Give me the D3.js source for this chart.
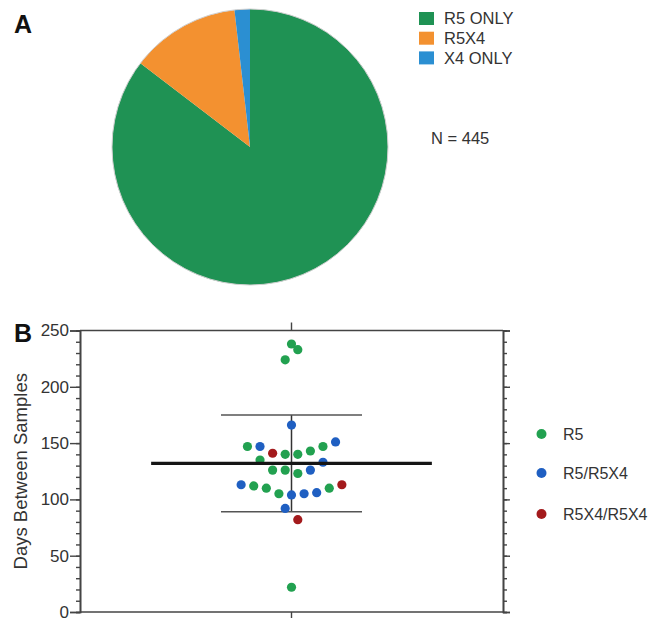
<!DOCTYPE html>
<html>
<head>
<meta charset="utf-8">
<script src="https://cdn.jsdelivr.net/npm/d3@7"></script>
<style>
  html, body { margin: 0; padding: 0; background: #fff; }
  svg { display: block; }
  text { font-family: "Liberation Sans", Arial, sans-serif; fill: #333; }
</style>
</head>
<body>
<svg id="chart" width="660" height="618"></svg>
<script>
// ---------- Panel A data ----------
const pieCategories = ["R5 ONLY", "R5X4", "X4 ONLY"];
const pieCounts = [380, 57, 8];
const pieColors = ["#1f9254", "#f39130", "#2b8fd2"];
const pieNote = "N = 445";

// ---------- Panel B data ----------
const groupNames = ["R5", "R5/R5X4", "R5X4/R5X4"];
const groupColors = ["#22a150", "#1f5fc2", "#a31a1c"];
// days between samples for each group
const r5Days      = [238, 233, 224, 22, 147, 140, 140, 143, 147, 135, 126, 126, 123, 112, 110, 105, 110];
const r5Slot      = [0, 1, -1, 0, -7, -1, 1, 3, 5, -5, -3, -1, 1, -6, -4, -2, 6];
const r5r5x4Days  = [166, 147, 151, 133, 126, 113, 104, 105, 106, 92];
const r5r5x4Slot  = [0, -5, 7, 5, 3, -8, 0, 2, 4, -1];
const r5x4Days    = [141, 113, 82];
const r5x4Slot    = [-3, 8, 1];
const meanDays = 132;
const sdUpper = 175;
const sdLower = 89;
const yMajorTicks = [0, 50, 100, 150, 200, 250];
const yMinorTicks = d3.range(0, 251, 10);
const yTitle = "Days Between Samples";

const svg = d3.select("#chart");

// ================= Panel A =================
const pieG = svg.append("g").attr("transform", "translate(250,147)");
const pie = d3.pie().sort(null).value(d => d)(pieCounts);
const arc = d3.arc().innerRadius(0).outerRadius(138);
pieG.selectAll("path.slice").data(pie).enter().append("path")
  .attr("class", "slice")
  .attr("d", arc)
  .attr("fill", (d, i) => pieColors[i]);
pieG.append("circle").attr("r", 138).attr("fill", "none")
  .attr("stroke", "#cfcfcf").attr("stroke-width", 1);

svg.append("text").attr("x", 14).attr("y", 33)
  .style("font-size", "25px").style("font-weight", "bold").style("fill", "#111").text("A");

const legA = svg.append("g");
pieCategories.forEach((c, i) => {
  const y0 = 12 + i * 19.7;
  legA.append("rect").attr("x", 419).attr("y", y0).attr("width", 15).attr("height", 13)
    .attr("fill", pieColors[i]);
  legA.append("text").attr("x", 444).attr("y", y0 + 12.3)
    .style("font-size", "16.5px").text(c);
});
svg.append("text").attr("x", 431).attr("y", 144).style("font-size", "16.5px").text(pieNote);

// ================= Panel B =================
const pLeft = 80, pRight = 503, pTop = 330.5, pBottom = 612;
const y = d3.scaleLinear().domain([0, 250]).range([pBottom, pTop]);
const x = d3.scaleLinear().domain([-33.6, 33.6]).range([pLeft, pRight]);
const axisColor = "#444";

// left axis: minor then major
const gLm = svg.append("g").attr("transform", `translate(${pLeft},0)`)
  .call(d3.axisLeft(y).tickValues(yMinorTicks).tickSize(4).tickFormat(""));
const gL = svg.append("g").attr("transform", `translate(${pLeft},0)`)
  .call(d3.axisLeft(y).tickValues(yMajorTicks).tickSize(10).tickPadding(1));
gL.selectAll("text").style("font-size", "17px").style("fill", "#333")
  .attr("font-family", "Liberation Sans, Arial, sans-serif");
// right axis
const gRm = svg.append("g").attr("transform", `translate(${pRight},0)`)
  .call(d3.axisRight(y).tickValues(yMinorTicks).tickSize(4).tickFormat(""));
const gR = svg.append("g").attr("transform", `translate(${pRight},0)`)
  .call(d3.axisRight(y).tickValues(yMajorTicks).tickSize(7).tickFormat(""));
[gLm, gL, gRm, gR].forEach(g => {
  g.select(".domain").attr("stroke", axisColor).attr("stroke-width", 1.6);
  g.selectAll(".tick line").attr("stroke", axisColor).attr("stroke-width", 1.4);
});
// top & bottom borders
svg.append("line").attr("x1", pLeft).attr("x2", pRight).attr("y1", y(250)).attr("y2", y(250))
  .attr("stroke", axisColor).attr("stroke-width", 1.6);
svg.append("line").attr("x1", pLeft).attr("x2", pRight).attr("y1", y(0)).attr("y2", y(0))
  .attr("stroke", axisColor).attr("stroke-width", 1.6);
svg.append("line").attr("x1", x(0)).attr("x2", x(0)).attr("y1", y(250) - 8).attr("y2", y(250))
  .attr("stroke", axisColor).attr("stroke-width", 1.4);
svg.append("line").attr("x1", x(0)).attr("x2", x(0)).attr("y1", y(0)).attr("y2", y(0) + 8)
  .attr("stroke", axisColor).attr("stroke-width", 1.4);

// y title
svg.append("text").attr("transform", `translate(27,${(pTop + pBottom) / 2}) rotate(-90)`)
  .attr("text-anchor", "middle").style("font-size", "18.5px").text(yTitle);
svg.append("text").attr("x", 14).attr("y", 342)
  .style("font-size", "25px").style("font-weight", "bold").style("fill", "#111").text("B");

// SD bars
const sdHalf = 11.2, meanHalf = 22.3;
const sdColor = "#333";
svg.append("line").attr("x1", x(0)).attr("x2", x(0)).attr("y1", y(sdUpper)).attr("y2", y(sdLower))
  .attr("stroke", sdColor).attr("stroke-width", 1.5);
[sdUpper, sdLower].forEach(v => {
  svg.append("line").attr("x1", x(-sdHalf)).attr("x2", x(sdHalf)).attr("y1", y(v)).attr("y2", y(v))
    .attr("stroke", "#555").attr("stroke-width", 1.5);
});

// points
const points = [];
r5Days.forEach((v, i) => points.push({ g: 0, v, s: r5Slot[i] }));
r5r5x4Days.forEach((v, i) => points.push({ g: 1, v, s: r5r5x4Slot[i] }));
r5x4Days.forEach((v, i) => points.push({ g: 2, v, s: r5x4Slot[i] }));
svg.append("g").selectAll("circle").data(points).enter().append("circle")
  .attr("cx", d => x(d.s)).attr("cy", d => y(d.v)).attr("r", 4.6)
  .attr("fill", d => groupColors[d.g]);

// mean line
svg.append("line").attr("x1", x(-meanHalf)).attr("x2", x(meanHalf))
  .attr("y1", y(meanDays)).attr("y2", y(meanDays))
  .attr("stroke", "#151515").attr("stroke-width", 3.2);

// legend B
const legB = svg.append("g");
groupNames.forEach((n, i) => {
  const cy = [434, 473, 514][i];
  legB.append("circle").attr("cx", 541.5).attr("cy", cy).attr("r", 5).attr("fill", groupColors[i]);
  legB.append("text").attr("x", 563).attr("y", cy + 6).style("font-size", "16px").text(n);
});
</script>
</body>
</html>
